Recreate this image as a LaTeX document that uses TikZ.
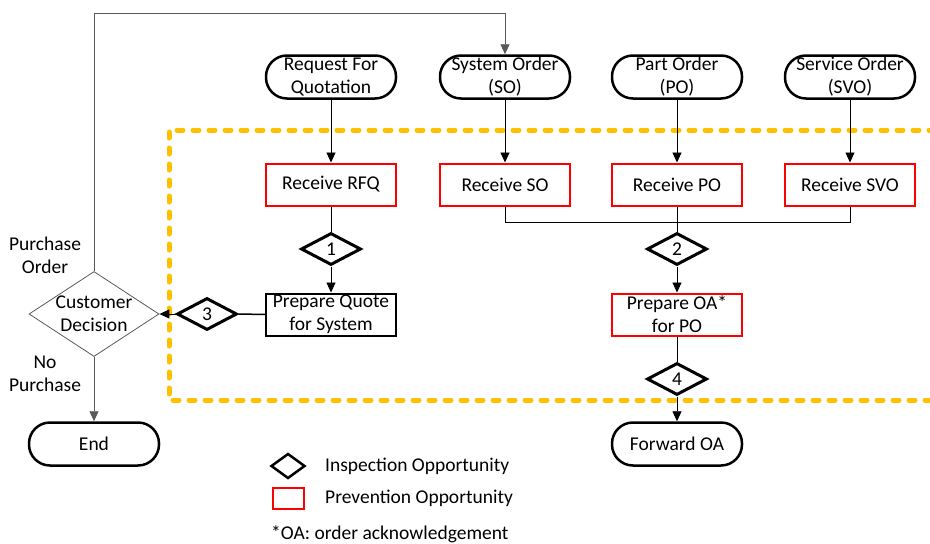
\documentclass[tikz,border=0pt]{standalone}
\usepackage{fontspec}
\setmainfont{Carlito}
\usetikzlibrary{shapes.geometric,arrows.meta}
\definecolor{zone}{HTML}{FFC000}
\definecolor{conn}{HTML}{595959}
\begin{document}
\begin{tikzpicture}[x=1pt,y=-1pt,
  font=\fontsize{19.5}{23}\selectfont,
  term/.style={draw,line width=2.5pt,rounded corners=21pt,minimum width=130pt,minimum height=43pt,align=center,inner sep=0pt},
  redbox/.style={draw=red,line width=2pt,minimum width=130pt,minimum height=42pt,align=center,inner sep=0pt},
  blkbox/.style={draw,line width=2pt,minimum width=130pt,minimum height=42pt,align=center,inner sep=0pt},
  insp/.style={diamond,draw,line width=3pt,minimum width=60pt,minimum height=32pt,inner sep=0pt},
  decis/.style={diamond,draw=conn,line width=0.8pt,minimum width=130pt,minimum height=85pt,inner sep=0pt},
  lbl/.style={align=center,inner sep=0pt},
  arr/.style={-{Triangle[length=10pt,width=9pt]}},
  ln/.style={line width=0.9pt},
  gln/.style={line width=0.9pt,draw=conn}]
\useasboundingbox (0,0) rectangle (930,544);

% inspection zone
\draw[zone,line width=5pt,dash pattern=on 6pt off 10pt,line cap=round]
  (935,130) -- (169,130) -- (169,400) -- (935,400);

% terminators
\node[term] (rfq) at (331,77) {Request For\\Quotation};
\node[term] (so)  at (505,77) {System Order\\(SO)};
\node[term] (po)  at (677,77) {Part Order\\(PO)};
\node[term] (svo) at (850,77) {Service Order\\(SVO)};

% receive boxes
\node[redbox] (rrfq) at (331,184.5) {Receive RFQ};
\node[redbox] (rso)  at (505,184.5) {Receive SO};
\node[redbox] (rpo)  at (677,184.5) {Receive PO};
\node[redbox] (rsvo) at (850,184.5) {Receive SVO};

% inspections
\node[insp] (d1) at (331,249) {1};
\node[insp] (d2) at (677,249) {2};
\node[insp] (d3) at (207,314) {3};
\node[insp] (d4) at (677,379) {4};

\node[blkbox] (pq)  at (331,314.5) {Prepare Quote\\for System};
\node[redbox] (poa) at (677,314.5) {Prepare OA*\\for PO};

\node[term] (fwd) at (677,444) {Forward OA};
\node[term] (end) at (94,444) {End};

\node[decis] (cd) at (94,314) {};
\node[lbl] (cdt) at (cd) {Customer\\Decision};

\node[lbl] (lpo) at (45,255) {Purchase\\Order};
\node[lbl] (lnp) at (45,374) {No\\Purchase};

% connectors
\draw[ln,arr] (rfq) -- (rrfq);
\draw[ln,arr] (so) -- (rso);
\draw[ln,arr] (po) -- (rpo);
\draw[ln,arr] (svo) -- (rsvo);
\draw[ln] (rrfq) -- (d1);
\draw[ln,arr] (d1) -- (pq);
\coordinate (join) at (677,222);
\draw[ln] (rso.south) |- (join);
\draw[ln] (rsvo.south) |- (join);
\draw[ln] (rpo) -- (d2);
\draw[ln,arr] (d2) -- (poa);
\draw[ln] (poa) -- (d4);
\draw[ln,arr] (d4) -- (fwd);
\draw[line width=1.5pt] (pq.west) -- (d3.east);
\draw[ln,arr] (d3.west) -- (cd.east);
\coordinate (top) at (505,13);
\draw[gln,arr] (cd.north) |- (top) -- (so.north);
\draw[gln,arr] (cd.south) -- (end.north);

% legend
\node[diamond,draw,line width=2.5pt,minimum width=34pt,minimum height=25pt,inner sep=0pt] (legd) at (288,466) {};
\node[draw=red,line width=2pt,minimum width=31pt,minimum height=21pt,inner sep=0pt] (legr) at (288,498.5) {};
\node[anchor=west,inner sep=0pt] (legdt) at (325,466) {Inspection Opportunity};
\node[anchor=west,inner sep=0pt] (legrt) at (325,498) {Prevention Opportunity};
\node[anchor=west,inner sep=0pt] (note) at (271,534) {*OA: order acknowledgement};
\end{tikzpicture}
\end{document}
